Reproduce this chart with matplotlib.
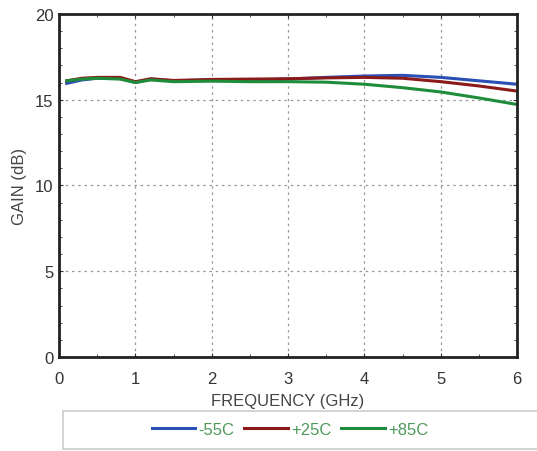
import matplotlib.pyplot as plt
from matplotlib.patches import Rectangle
from matplotlib.ticker import MultipleLocator

plt.rcParams["font.family"] = ["Liberation Sans", "DejaVu Sans"]

# Gain vs frequency at three temperatures
freq = [0.1, 0.3, 0.5, 0.8, 1.0, 1.2, 1.5, 2.0, 2.5, 3.0, 3.5, 4.0, 4.5, 5.0, 5.5, 6.0]
gain_m55 = [15.95, 16.15, 16.25, 16.25, 16.0, 16.2, 16.1, 16.15, 16.15, 16.2, 16.3, 16.38, 16.42, 16.3, 16.1, 15.9]
gain_p25 = [16.1, 16.25, 16.3, 16.3, 16.05, 16.22, 16.12, 16.18, 16.2, 16.22, 16.27, 16.3, 16.25, 16.05, 15.8, 15.5]
gain_p85 = [16.1, 16.2, 16.25, 16.2, 16.0, 16.15, 16.05, 16.08, 16.05, 16.05, 16.02, 15.9, 15.7, 15.45, 15.1, 14.72]
labels = ["-55C", "+25C", "+85C"]
colors = ["#2a4fb5", "#8b1a1a", "#1e8c3a"]

fig = plt.figure(figsize=(5.37, 4.52), dpi=100)
ax = fig.add_axes([0.110, 0.208, 0.853, 0.759])

for g, lab, c in zip([gain_m55, gain_p25, gain_p85], labels, colors):
    ax.plot(freq, g, color=c, lw=2.2, label=lab)

ax.set_xlim(0, 6)
ax.set_ylim(0, 20)
ax.xaxis.set_major_locator(MultipleLocator(1))
ax.xaxis.set_minor_locator(MultipleLocator(0.5))
ax.yaxis.set_major_locator(MultipleLocator(5))
ax.yaxis.set_minor_locator(MultipleLocator(1))
ax.tick_params(which="both", direction="in", top=True, right=True, labelsize=12, colors="#333333")
ax.tick_params(which="major", length=3)
ax.tick_params(which="minor", length=2)
ax.tick_params(axis="x", pad=10)
ax.tick_params(axis="y", pad=4)
ax.grid(True, which="major", ls=(0, (2, 3)), color="#999999", lw=0.9)
for s in ax.spines.values():
    s.set_linewidth(2)
    s.set_color("#222222")

ax.set_xlabel("FREQUENCY (GHz)", fontsize=12, color="#444444", labelpad=5)
ax.set_ylabel("GAIN (dB)", fontsize=12, color="#444444", labelpad=6)

# legend box running off the right edge, entries centred inside it
fig.patches.append(Rectangle((0.117, 0.005), 0.9, 0.083, transform=fig.transFigure,
                             facecolor="white", edgecolor="#cccccc", lw=1.2))
leg = fig.legend(loc="center", bbox_to_anchor=(0.54, 0.048), ncol=3, frameon=False,
                 fontsize=12, handlelength=2.6, columnspacing=0.6, handletextpad=0.2)
for t in leg.get_texts():
    t.set_color("#4d9a5a")

fig.savefig("out.png", dpi=100)
